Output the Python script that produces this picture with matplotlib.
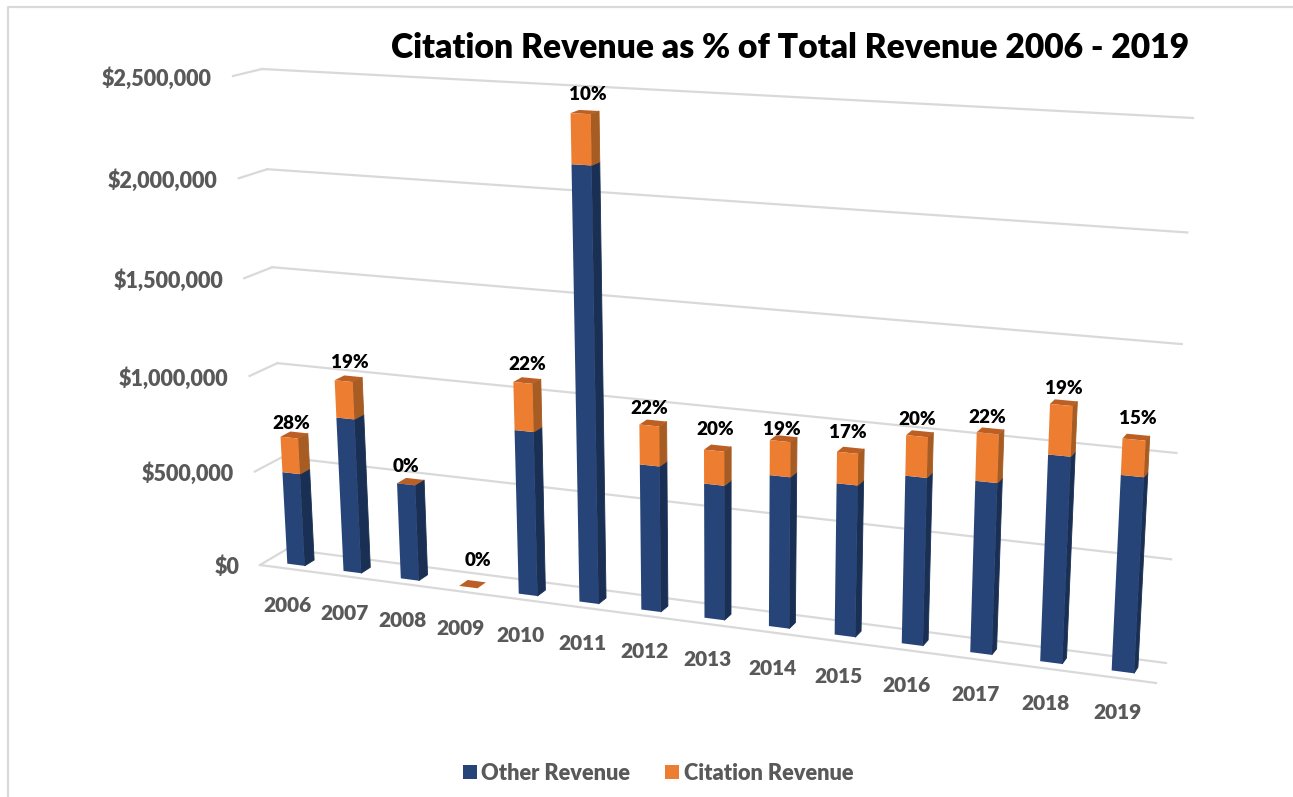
import numpy as np
import matplotlib
matplotlib.use("Agg")
import matplotlib.pyplot as plt
from matplotlib.transforms import Transform

years = ["2006", "2007", "2008", "2009", "2010", "2011", "2012", "2013", "2014", "2015", "2016", "2017", "2018", "2019"]
other_rev = [485000, 800000, 495000, 0, 830000, 2130000, 725000, 665000, 740000, 735000, 805000, 815000, 970000, 910000]
citation_rev = [185000, 190000, 0, 0, 238000, 235000, 195000, 165000, 168000, 150000, 190000, 225000, 230000, 165000]
pct_labels = ["28%", "19%", "0%", "0%", "22%", "10%", "22%", "20%", "19%", "17%", "20%", "22%", "19%", "15%"]
y_ticks = [0, 500000, 1000000, 1500000, 2000000, 2500000]

# hand placed data labels in the original, offsets in px from the bar top
label_dx = [2, 6, 0, 10, 4, 7, 0, 1.5, 2, 0, 0, -1, 2, 3.5]
label_dy = [-14, -19, -18, -27, -18, -19, -17, -21, -12, -20, -17, -16, -16, -21]

BLUE, BLUE_SIDE = "#264478", "#1a2f54"
ORANGE, ORANGE_SIDE, ORANGE_TOP = "#ed7d31", "#a65c22", "#bc5f24"
GRID = "#d9d9d9"
GRAY = "#595959"
WEIGHT = 800


class Plane(Transform):
    # projective map from (category, value) to image pixels
    input_dims = output_dims = 2

    def __init__(self, src, dst):
        super().__init__()
        rows, rhs = [], []
        for (a, b), (u, v) in zip(src, dst):
            b = b / 1e6
            rows.append([a, b, 1, 0, 0, 0, -u * a, -u * b])
            rows.append([0, 0, 0, a, b, 1, -v * a, -v * b])
            rhs += [u, v]
        h = np.linalg.lstsq(np.array(rows), np.array(rhs), rcond=None)[0]
        self.h = np.append(h, 1).reshape(3, 3)

    def transform_non_affine(self, values):
        pts = np.asarray(values, dtype=float).reshape(-1, 2)
        p = np.column_stack([pts[:, 0], pts[:, 1] / 1e6, np.ones(len(pts))]) @ self.h.T
        return p[:, :2] / p[:, 2:]


corners = [(0, 0), (13, 0), (0, 2500000), (13, 2500000)]
edge_corners = [(-0.5, 0), (13.5, 0), (-0.5, 2500000), (13.5, 2500000)]
front = Plane(corners + [(5, 0), (10, 0)],
              [(295.5, 564), (1122, 671.5), (270, 70), (1150, 110), (589.5, 603), (913, 645.5)])
back = Plane(corners + [(5, 0), (10, 0)],
             [(305, 558), (1125.5, 665.5), (280.5, 67), (1154.5, 107), (597, 597), (919, 639.5)])
wall = Plane(edge_corners, [(287, 549), (1166, 663), (262, 69), (1193, 118)])
edge = Plane(edge_corners, [(260, 565), (1156, 683), (233, 76), (1186, 104)])

plt.rcParams["font.family"] = ["Lato", "DejaVu Sans"]
fig = plt.figure(figsize=(12.93, 7.97), dpi=100)
ax = fig.add_axes([0, 0, 1, 1])
ax.axis("off")

front_tr = front + ax.transData
wall_tr = wall + ax.transData
edge_tr = edge + ax.transData

# outer frame of the chart area
ax.plot([8, 8, 1293], [797, 7, 7], color=GRID, lw=1.6, zorder=1)

# gridlines: stub on the side wall, then along the back wall
for v in y_ticks:
    ax.plot([-0.5, 13.5], [v, v], color=GRID, lw=1.6, transform=wall_tr, zorder=1)
    sx, sy = edge.transform([(-0.5, v)])[0]
    wx, wy = wall.transform([(-0.5, v)])[0]
    ax.plot([sx, wx], [sy, wy], color=GRID, lw=1.6, zorder=1)
    ax.text(sx - 21, sy + 2.5, f"${v:,.0f}", ha="right", va="center", fontsize=15.5,
            fontweight=WEIGHT, color=GRAY)
ax.plot([-0.5, 13.5], [0, 0], color=GRID, lw=1.6, transform=edge_tr, zorder=1)

x = np.arange(len(years))
other = np.array(other_rev)
cit = np.array(citation_rev)
width = 0.31

mask = other > 0
b1 = ax.bar(x[mask], other[mask], width, color=BLUE, transform=front_tr, clip_on=False,
            zorder=4, label="Other Revenue")
b2 = ax.bar(x[cit > 0], cit[cit > 0], width, bottom=other[cit > 0], color=ORANGE,
            transform=front_tr, clip_on=False, zorder=4, label="Citation Revenue")


def side_face(i, lo, hi, color):
    r = i + width / 2
    pts = np.vstack([front.transform([(r, lo), (r, hi)]), back.transform([(r, hi), (r, lo)])])
    # thin edge closes the seam against the front face
    ax.fill(pts[:, 0], pts[:, 1], facecolor=color, edgecolor=color, lw=0.6, zorder=3)


for i in x:
    top = other[i] + cit[i]
    if other[i] > 0:
        side_face(i, 0, other[i], BLUE_SIDE)
    if cit[i] > 0:
        side_face(i, other[i], top, ORANGE_SIDE)
    l, r = i - width / 2, i + width / 2
    pts = np.vstack([front.transform([(l, top), (r, top)]), back.transform([(r, top), (l, top)])])
    ax.fill(pts[:, 0], pts[:, 1], color=ORANGE_TOP, lw=0, zorder=3)
    tx, ty = front.transform([(i, top)])[0]
    ax.text(tx + label_dx[i], ty + label_dy[i], pct_labels[i], ha="center", va="center",
            fontsize=13.6, fontweight=WEIGHT, color="black", zorder=6)
    bx, by = front.transform([(i, 0)])[0]
    ax.text(bx - 8 + 0.2 * i, by + 41, years[i], ha="center", va="center", fontsize=15,
            fontweight=WEIGHT, color=GRAY)

ax.text(790, 48, "Citation Revenue as % of Total Revenue 2006 - 2019", ha="center", va="center",
        fontsize=24.2, fontweight=WEIGHT, color="black")

ax.legend(handles=[b1, b2], ncol=2, loc="center", bbox_to_anchor=(658 / 1293, 1 - 773 / 797),
          frameon=False, handlelength=0.64, handleheight=0.64, handletextpad=0.22,
          columnspacing=1.6, labelcolor=GRAY, prop={"weight": WEIGHT, "size": 15.7})

ax.set_xlim(0, 1293)
ax.set_ylim(797, 0)
fig.savefig("out.png", dpi=100)
